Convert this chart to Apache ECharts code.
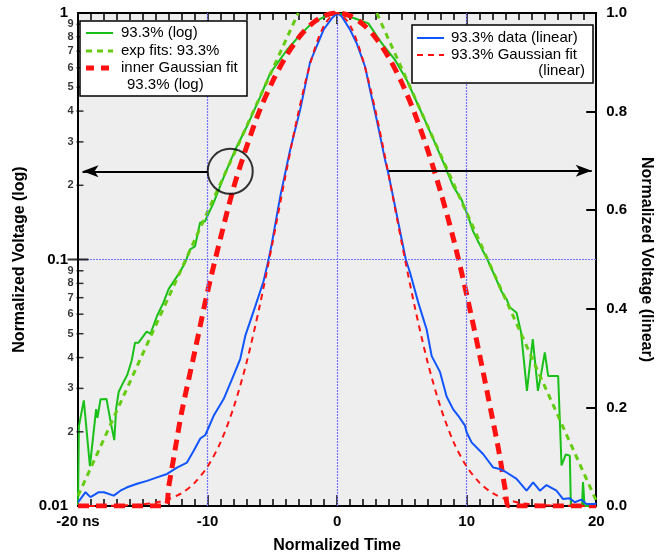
<!DOCTYPE html>
<html><head><meta charset="utf-8">
<script src="https://cdn.jsdelivr.net/npm/echarts@6/dist/echarts.min.js"></script>
<style>html,body{margin:0;padding:0;background:#fff}#c{width:662px;height:559px}</style>
</head><body><div id="c"></div>
<script>
// ---- data (time in ns) ----
const greenLog = [[-20.0,0.0101],[-19.93,0.0211],[-19.55,0.0268],[-19.08,0.0145],[-18.6,0.0247],[-18.5,0.0228],[-18.26,0.0271],[-17.8,0.0272],[-17.45,0.0215],[-17.2,0.0185],[-17.05,0.025],[-16.86,0.029],[-16.6,0.031],[-16.2,0.034],[-15.85,0.039],[-15.6,0.046],[-15.33,0.046],[-14.7,0.051],[-14.4,0.050],[-13.9,0.059],[-13.4,0.067],[-13.0,0.076],[-12.25,0.087],[-11.73,0.097],[-11.35,0.110],[-10.97,0.113],[-10.58,0.141],[-10.2,0.143],[-9.53,0.17],[-8.63,0.224],[-7.86,0.279],[-6.96,0.347],[-5.93,0.458],[-5.16,0.57],[-3.88,0.708],[-2.85,0.815],[-1.95,0.91],[-1.0,0.965],[0,1.0],[1.39,0.95],[2.41,0.908],[3.44,0.754],[4.47,0.645],[5.37,0.535],[6.0,0.452],[6.65,0.38],[7.55,0.297],[8.32,0.239],[8.96,0.198],[9.6,0.175],[10.1,0.150],[10.5,0.130],[11.0,0.115],[11.6,0.1],[12.2,0.085],[12.7,0.074],[13.08,0.069],[13.33,0.064],[13.85,0.0608],[14.2,0.0505],[14.65,0.0293],[15.1,0.0475],[15.5,0.0293],[15.72,0.0337],[16.03,0.042],[16.29,0.0337],[17.06,0.0337],[17.32,0.0146],[17.65,0.0162],[17.96,0.016],[18.04,0.01],[18.9,0.01],[18.98,0.0125],[19.1,0.01],[20,0.01]];
const expFitLeft = [[-20,0.011],[-3.0,1.0]];
const expFitRight = [[3.06,1.0],[20,0.0105]];
const innerGaussLog = [[-20,0.01],[-13.3,0.01],[-13,0.012],[-12.5,0.017],[-12,0.024],[-11,0.042],[-10,0.074],[-9,0.122],[-8,0.195],[-7,0.285],[-6,0.40],[-5,0.525],[-4,0.66],[-3,0.79],[-2,0.90],[-1,0.974],[0,1.0],[1,0.974],[2,0.90],[3,0.79],[4,0.658],[5,0.52],[6,0.39],[7,0.277],[8,0.187],[9,0.12],[10,0.072],[11,0.041],[12,0.0225],[12.5,0.0165],[13,0.0115],[13.3,0.01],[20,0.01]];
const blueLinear = [[-20,0.0075],[-19.42,0.028],[-19.04,0.018],[-18.65,0.024],[-18.4,0.028],[-18.0,0.028],[-17.24,0.021],[-16.73,0.031],[-16.21,0.038],[-15.44,0.045],[-14.67,0.051],[-13.9,0.058],[-13.13,0.065],[-12.36,0.078],[-11.59,0.088],[-11.07,0.112],[-10.56,0.137],[-10.17,0.144],[-9.53,0.183],[-8.76,0.217],[-8.12,0.257],[-7.48,0.298],[-7.09,0.345],[-6.32,0.405],[-5.68,0.456],[-5.29,0.5],[-5.03,0.534],[-4.39,0.628],[-3.62,0.723],[-2.85,0.804],[-2.08,0.901],[-1.05,0.966],[-0.41,0.989],[0,1.0],[0.36,0.993],[1.0,0.966],[1.52,0.938],[2.16,0.891],[2.54,0.844],[3.06,0.783],[3.7,0.702],[3.95,0.675],[4.47,0.608],[4.99,0.54],[5.3,0.5],[5.63,0.473],[6.27,0.412],[6.91,0.358],[7.3,0.304],[7.94,0.272],[8.45,0.222],[8.96,0.196],[9.35,0.183],[9.87,0.163],[10.0,0.149],[10.38,0.129],[11.28,0.105],[12.05,0.078],[12.56,0.075],[13.08,0.068],[13.85,0.055],[14.62,0.031],[15.13,0.048],[15.65,0.031],[16.16,0.0425],[16.93,0.031],[17.44,0.014],[17.96,0.0155],[18.34,0.0075],[18.86,0.0128],[19.24,0.004],[19.88,0.004],[20,0.006]];
const gaussLinear = [[-20,0.0],[-18,0.0003],[-17,0.0007],[-16,0.0016],[-15,0.0034],[-14,0.007],[-13,0.014],[-12,0.026],[-11,0.047],[-10,0.080],[-9,0.129],[-8,0.199],[-7,0.290],[-6,0.403],[-5,0.532],[-4,0.668],[-3,0.797],[-2,0.904],[-1,0.975],[0,1.0],[1,0.975],[2,0.904],[3,0.797],[4,0.668],[5,0.532],[6,0.403],[7,0.290],[8,0.199],[9,0.129],[10,0.080],[11,0.047],[12,0.026],[13,0.014],[14,0.007],[15,0.0034],[16,0.0016],[17,0.0007],[18,0.0003],[20,0.0]];
const logMinorValues = [0.02,0.03,0.04,0.05,0.06,0.07,0.08,0.09,0.2,0.3,0.4,0.5,0.6,0.7,0.8,0.9];
const logMinorLabels = ['2','3','4','5','6','7','8','9','2','3','4','5','6','7','8','9'];
const logMajorLabels = {'0.01':'0.01','0.1':'0.1','1':'1'};
const gridTimes = [-10, 0, 10];
const gridLogLevels = [0.1];
const arrowLeftLog = [[-10.0,0.228],[-19.65,0.228]];
const arrowRightLinear = [[3.88,0.68],[19.65,0.68]];
const circleAt = [-8.25,0.228];

const GREEN='#18c018', YGREEN='#66cc11', RED='#ff1111', BLUE='#1155ff', GRIDBLUE='#7373ff';
const FONT='"Liberation Sans", Arial, Helvetica, sans-serif';
const chart = echarts.init(document.getElementById('c'), null, {renderer:'canvas'});
const xBase = {
  type:'value', min:-20, max:20, interval:10,
  axisLine:{show:true, onZero:false, lineStyle:{color:'#000', width:2}},
  axisTick:{show:true, inside:true, length:11, lineStyle:{color:'#000', width:1.5}},
  minorTick:{show:true, splitNumber:10, length:7, lineStyle:{color:'#000', width:1.5}},
  splitLine:{show:false}
};
const option = {
  animation:false,
  backgroundColor:'#fff',
  grid:{left:78, right:65, top:13, bottom:52, show:true, backgroundColor:'#eeeeee', borderWidth:0},
  xAxis:[
    Object.assign({}, xBase, {
      position:'bottom',
      axisLabel:{show:true, margin:8, color:'#000', fontFamily:FONT, fontWeight:'bold', fontSize:15,
        formatter:v=> v===-20 ? '-20 ns' : String(v)},
      name:'Normalized Time', nameLocation:'middle', nameGap:32,
      nameTextStyle:{color:'#000', fontFamily:FONT, fontWeight:'bold', fontSize:16}
    }),
    Object.assign({}, xBase, {position:'top', axisLabel:{show:false}})
  ],
  yAxis:[
    {type:'log', logBase:10, min:0.01, max:1, position:'left',
     axisLine:{show:true, onZero:false, lineStyle:{color:'#000', width:2}},
     axisTick:{show:false},
     axisLabel:{show:true, margin:10, color:'#000', fontFamily:FONT, fontWeight:'bold', fontSize:15,
       formatter:v=> v>=0.5 ? logMajorLabels['1'] : (v>=0.05 ? logMajorLabels['0.1'] : logMajorLabels['0.01'])},
     splitLine:{show:false},
     name:'Normalized Voltage (log)', nameLocation:'middle', nameGap:43, nameRotate:90,
     nameTextStyle:{color:'#000', fontFamily:FONT, fontWeight:'bold', fontSize:16}
    },
    {type:'value', min:0, max:1, interval:0.2, position:'right',
     axisLine:{show:true, onZero:false, lineStyle:{color:'#000', width:2}},
     axisTick:{show:true, inside:true, length:10, lineStyle:{color:'#000', width:2}},
     axisLabel:{show:true, margin:10, color:'#000', fontFamily:FONT, fontWeight:'bold', fontSize:15,
       formatter:v=>v.toFixed(1)},
     splitLine:{show:false},
     name:'Normalized Voltage (linear)', nameLocation:'middle', nameGap:36, nameRotate:-90,
     nameTextStyle:{color:'#000', fontFamily:FONT, fontWeight:'bold', fontSize:16}
    }
  ],
  series:[
    {name:'grid lines', type:'line', yAxisIndex:0, data:[[0,0.1]], showSymbol:false, silent:true, z:1,
     lineStyle:{width:0},
     markLine:{silent:true, symbol:['none','none'], animation:false, label:{show:false},
       lineStyle:{color:GRIDBLUE, width:1.2, type:[2,1], opacity:1},
       data: gridTimes.map(t=>({xAxis:t})).concat(gridLogLevels.map(v=>({yAxis:v})))}},
    {name:'93.3% (log)', type:'line', xAxisIndex:0, yAxisIndex:0, data:greenLog, showSymbol:false, z:3,
     lineStyle:{color:GREEN, width:2},
     markLine:{silent:true, symbol:['none','arrow'], symbolSize:[9,16], animation:false,
       lineStyle:{color:'#000', width:2, type:'solid'}, label:{show:false},
       data:[[{coord:arrowLeftLog[0]},{coord:arrowLeftLog[1]}]]}},
    {name:'exp fits: 93.3%', type:'line', yAxisIndex:0, data:expFitLeft, showSymbol:false, z:3,
     lineStyle:{color:YGREEN, width:3, type:[6,5]}},
    {name:'exp fits: 93.3% (right)', type:'line', yAxisIndex:0, data:expFitRight, showSymbol:false, z:3,
     lineStyle:{color:YGREEN, width:3, type:[6,5]}},
    {name:'inner Gaussian fit 93.3% (log)', type:'line', yAxisIndex:0, data:innerGaussLog, showSymbol:false, smooth:0.3, z:4,
     lineStyle:{color:RED, width:5, type:[11,7]}},
    {name:'93.3% data (linear)', type:'line', yAxisIndex:1, data:blueLinear, showSymbol:false, z:5,
     lineStyle:{color:BLUE, width:2},
     markLine:{silent:true, symbol:['none','arrow'], symbolSize:[9,16], animation:false,
       lineStyle:{color:'#000', width:2, type:'solid'}, label:{show:false},
       data:[[{coord:arrowRightLinear[0]},{coord:arrowRightLinear[1]}]]}},
    {name:'93.3% Gaussian fit (linear)', type:'line', yAxisIndex:1, data:gaussLinear, showSymbol:false, smooth:0.3, z:6,
     lineStyle:{color:RED, width:2, type:[6,5]}},
    {name:'circle', type:'scatter', yAxisIndex:0, data:[circleAt], symbol:'circle', symbolSize:45, silent:true, z:7,
     itemStyle:{color:'rgba(0,0,0,0)', borderColor:'#000', borderWidth:2}},
    {name:'minor log ticks', type:'scatter', yAxisIndex:0, clip:false, silent:true, z:8,
     data:logMinorValues.map((v,i)=>({value:[-20,v], label:{formatter:logMinorLabels[i]}})),
     symbol:'rect', symbolSize:[7,1.5], symbolOffset:[2,0], itemStyle:{color:'#000'},
     label:{show:true, position:'left', distance:3, color:'#000', fontFamily:FONT, fontWeight:'bold', fontSize:11}},
    {name:'major log tick', type:'scatter', yAxisIndex:0, clip:false, silent:true, z:8,
     data:[[-20,0.1]], symbol:'rect', symbolSize:[21,2], symbolOffset:[0,0], itemStyle:{color:'#000'}}
  ],
  graphic:[
    {type:'rect', z:100, shape:{x:80,y:21,width:167,height:75}, style:{fill:'#fff', stroke:'#000', lineWidth:1.5}},
    {type:'line', z:101, shape:{x1:86,y1:33,x2:113,y2:33}, style:{stroke:GREEN, lineWidth:2}},
    {type:'line', z:101, shape:{x1:86,y1:51,x2:113,y2:51}, style:{stroke:YGREEN, lineWidth:3, lineDash:[6,5]}},
    {type:'line', z:101, shape:{x1:86,y1:68,x2:113,y2:68}, style:{stroke:RED, lineWidth:5, lineDash:[8,7]}},
    {type:'text', z:101, x:121, y:33, style:{text:'93.3% (log)', font:'15px '+FONT, fill:'#000', verticalAlign:'middle'}},
    {type:'text', z:101, x:121, y:51, style:{text:'exp fits: 93.3%', font:'15px '+FONT, fill:'#000', verticalAlign:'middle'}},
    {type:'text', z:101, x:121, y:68, style:{text:'inner Gaussian fit', font:'15px '+FONT, fill:'#000', verticalAlign:'middle'}},
    {type:'text', z:101, x:127, y:85, style:{text:'93.3% (log)', font:'15px '+FONT, fill:'#000', verticalAlign:'middle'}},
    {type:'rect', z:100, shape:{x:412,y:25,width:181,height:58}, style:{fill:'#fff', stroke:'#000', lineWidth:1.5}},
    {type:'line', z:101, shape:{x1:417,y1:38,x2:444,y2:38}, style:{stroke:BLUE, lineWidth:2}},
    {type:'line', z:101, shape:{x1:417,y1:55,x2:444,y2:55}, style:{stroke:RED, lineWidth:2, lineDash:[6,5]}},
    {type:'text', z:101, x:451, y:38, style:{text:'93.3% data (linear)', font:'15px '+FONT, fill:'#000', verticalAlign:'middle'}},
    {type:'text', z:101, x:451, y:55, style:{text:'93.3% Gaussian fit', font:'15px '+FONT, fill:'#000', verticalAlign:'middle'}},
    {type:'text', z:101, x:585, y:71, style:{text:'(linear)', font:'15px '+FONT, fill:'#000', verticalAlign:'middle', align:'right'}}
  ]
};
chart.setOption(option);
</script></body></html>
